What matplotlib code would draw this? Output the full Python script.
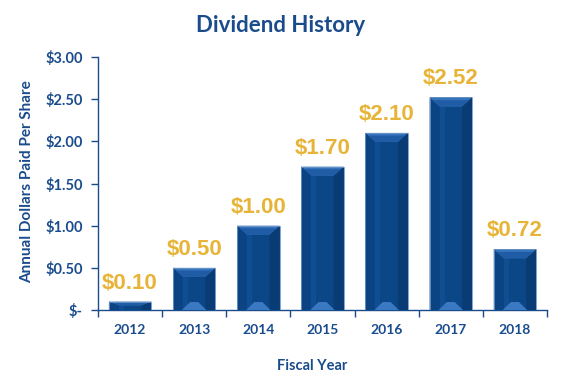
import matplotlib
matplotlib.use("Agg")
import matplotlib.pyplot as plt
from matplotlib.patches import Polygon, Rectangle
import numpy as np

years = ["2012", "2013", "2014", "2015", "2016", "2017", "2018"]
dividends = [0.10, 0.50, 1.00, 1.70, 2.10, 2.52, 0.72]
ytick_vals = [0.0, 0.5, 1.0, 1.5, 2.0, 2.5, 3.0]
ytick_labels = ["$-", "$0.50", "$1.00", "$1.50", "$2.00", "$2.50", "$3.00"]

NAVY = "#1A4C8C"
GOLD = "#E8B437"

W, H = 562, 380
fig = plt.figure(figsize=(W / 100, H / 100), dpi=100)
ax_l, ax_r, ax_b, ax_t = 98, 547, 310, 57
ax = fig.add_axes([ax_l / W, 1 - ax_b / H, (ax_r - ax_l) / W, (ax_b - ax_t) / H])

x = np.arange(len(years))
bw = 0.66
ax.set_xlim(-0.5, len(years) - 0.5)
ax.set_ylim(0, 3.0)

# pixel -> data conversion
px_x = (len(years)) / (ax_r - ax_l)
px_y = 3.0 / (ax_b - ax_t)

bars = ax.bar(x, dividends, width=bw, color="#0B4686", edgecolor="none", zorder=2)

for xi, h in zip(x, dividends):
    x0, x1 = xi - bw / 2, xi + bw / 2
    dx = 10 * px_x
    dy = min(9 * px_y, h * 0.45)
    # side faces
    ax.add_patch(Polygon([(x0, 0), (x0, h), (x0 + dx, h - dy), (x0 + dx, 0)],
                         closed=True, color="#0C4382", lw=0, zorder=3))
    ax.add_patch(Polygon([(x1, 0), (x1, h), (x1 - dx, h - dy), (x1 - dx, 0)],
                         closed=True, color="#093B74", lw=0, zorder=3))
    # subtle front highlight stripe
    ax.add_patch(Rectangle((x0 + dx, 0), 5 * px_x, max(h - dy, 0),
                           color="#104E93", lw=0, zorder=3))
    # top bevel
    ax.add_patch(Polygon([(x0, h), (x1, h), (x1 - dx, h - dy), (x0 + dx, h - dy)],
                         closed=True, color="#3573BC", lw=0, zorder=4))
    ax.add_patch(Polygon([(x0 + dx * 0.35, h - dy * 0.3), (x1 - dx * 0.35, h - dy * 0.3),
                          (x1 - dx, h - dy), (x0 + dx, h - dy)],
                         closed=True, color="#1F5CA5", lw=0, zorder=4))
    # bottom highlight
    bdy = min(8 * px_y, h * 0.35)
    if h > 0.3:
        ax.add_patch(Polygon([(x0 + 9 * px_x, 0), (x1 - 9 * px_x, 0),
                              (xi + 4 * px_x, bdy), (xi - 4 * px_x, bdy)],
                             closed=True, color="#3A78C2", lw=0, zorder=4))
    # outline edge
    ax.add_patch(Rectangle((x0, 0), bw, h, fill=False, ec="#6F97C8", lw=0.6, zorder=5))
    ax.text(xi, h + 8 * px_y, f"${h:.2f}", ha="center", va="bottom",
            fontsize=16, fontweight="bold", color=GOLD,
            family=["Liberation Sans", "DejaVu Sans"], zorder=6)

for s in ["top", "right"]:
    ax.spines[s].set_visible(False)
for s in ["left", "bottom"]:
    ax.spines[s].set_color(NAVY)
    ax.spines[s].set_linewidth(1.0)

ax.set_yticks(ytick_vals)
ax.set_yticklabels(ytick_labels)
ax.set_xticks(x)
ax.set_xticklabels(years)
ax.set_xticks(np.arange(-0.5, len(years)), minor=True)
ax.tick_params(axis="x", which="major", length=0, pad=10)
ax.tick_params(axis="x", which="minor", length=5, color=NAVY, width=1)
ax.tick_params(axis="y", length=5, color=NAVY, width=1, pad=6)
for lab in ax.get_xticklabels():
    lab.set_fontfamily(["Lato", "DejaVu Sans"])
    lab.set_fontweight("bold")
    lab.set_fontsize(10)
    lab.set_color(NAVY)
for lab in ax.get_yticklabels():
    lab.set_fontfamily(["Lato", "DejaVu Sans"])
    lab.set_fontweight("bold")
    lab.set_fontsize(10.5)
    lab.set_color(NAVY)

fig.text(281 / W, 1 - 25 / H, "Dividend History", ha="center", va="center",
         fontsize=16, fontweight="bold", color=NAVY, family=["Lato", "DejaVu Sans"])
fig.text(27 / W, 1 - 182 / H, "Annual Dollars Paid Per Share", ha="center", va="center",
         rotation=90, fontsize=11, fontweight="bold", color=NAVY, family=["Lato", "DejaVu Sans"])
fig.text(312 / W, 1 - 366 / H, "Fiscal Year", ha="center", va="center",
         fontsize=10.5, fontweight="bold", color=NAVY, family=["Lato", "DejaVu Sans"])

fig.savefig("out.png", dpi=100)
